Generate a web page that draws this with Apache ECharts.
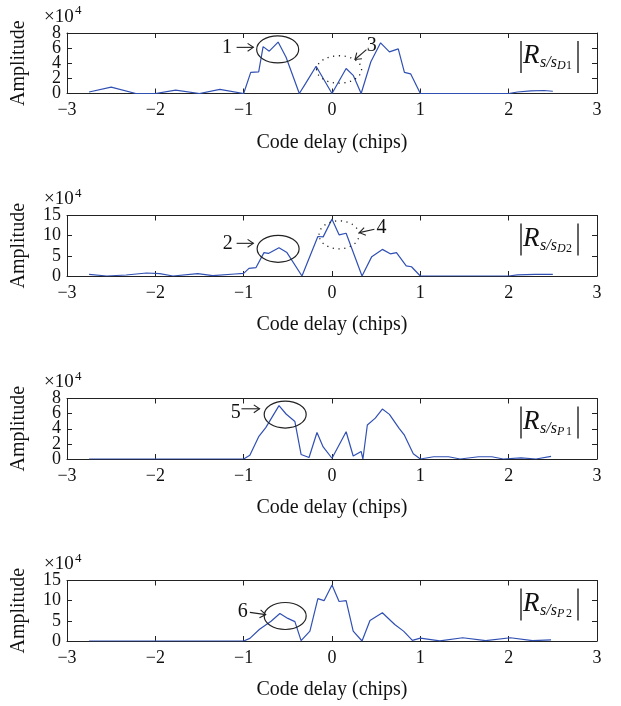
<!DOCTYPE html>
<html>
<head>
<meta charset="utf-8">
<script src="https://cdn.jsdelivr.net/npm/echarts@6/dist/echarts.min.js"></script>
<style>
  html, body { margin: 0; padding: 0; background: #fff; }
  #chart { width: 621px; height: 706px; }
</style>
</head>
<body>
<div id="chart"></div>
<script>
// code delay (chips) and amplitude (x1e4)
const xD1 = [-2.75, -2.5, -2.22, -2.0, -1.77, -1.5, -1.27, -1.0, -0.92, -0.83, -0.78, -0.71, -0.61, -0.52, -0.37, -0.30, -0.18, 0.0, 0.16, 0.24, 0.33, 0.44, 0.55, 0.65, 0.75, 0.82, 0.89, 1.0, 2.0, 2.1, 2.25, 2.4, 2.5];
const yD1 = [0.2, 0.85, 0.0, 0.0, 0.45, 0.0, 0.55, 0.0, 2.8, 2.85, 6.2, 5.6, 6.8, 4.8, 0.0, 1.3, 3.6, 0.0, 3.3, 2.4, 0.0, 4.2, 6.7, 5.5, 5.9, 2.8, 2.6, 0.0, 0.0, 0.2, 0.35, 0.4, 0.3];

const xD2 = [-2.75, -2.55, -2.33, -2.1, -1.95, -1.8, -1.52, -1.35, -1.1, -1.0, -0.94, -0.86, -0.77, -0.72, -0.60, -0.51, -0.34, -0.16, -0.10, 0.0, 0.08, 0.16, 0.34, 0.45, 0.57, 0.66, 0.73, 0.84, 0.90, 1.0, 2.0, 2.1, 2.3, 2.5];
const yD2 = [0.4, 0.0, 0.25, 0.75, 0.6, 0.0, 0.6, 0.1, 0.5, 0.65, 1.9, 2.1, 5.8, 5.6, 7.0, 5.8, 0.0, 9.8, 9.7, 14.1, 10.2, 10.6, 0.0, 4.8, 6.6, 5.5, 5.8, 2.5, 2.3, 0.0, 0.0, 0.3, 0.4, 0.4];

const xP1 = [-2.75, -1.0, -0.93, -0.83, -0.75, -0.60, -0.52, -0.42, -0.35, -0.26, -0.17, -0.10, 0.0, 0.16, 0.24, 0.33, 0.35, 0.40, 0.49, 0.57, 0.65, 0.76, 0.82, 0.92, 1.0, 1.15, 1.32, 1.45, 1.66, 1.81, 1.94, 2.14, 2.31, 2.48];
const yP1 = [0.0, 0.0, 0.5, 2.95, 4.15, 7.05, 5.95, 4.95, 0.6, 0.2, 3.5, 1.6, 0.1, 3.6, 0.4, 1.0, 0.0, 4.5, 5.4, 6.6, 5.9, 4.05, 3.15, 0.7, 0.0, 0.3, 0.3, 0.0, 0.3, 0.3, 0.0, 0.15, 0.0, 0.35];

const xP2 = [-2.75, -1.0, -0.93, -0.82, -0.69, -0.59, -0.50, -0.42, -0.35, -0.25, -0.16, -0.09, 0.0, 0.08, 0.16, 0.24, 0.34, 0.43, 0.57, 0.71, 0.81, 0.91, 1.0, 1.22, 1.48, 1.74, 2.02, 2.27, 2.48];
const yP2 = [0.0, 0.0, 0.65, 2.9, 4.9, 6.8, 5.6, 4.8, 0.1, 2.45, 10.5, 10.0, 13.9, 9.8, 10.0, 2.45, 0.0, 5.1, 7.0, 4.1, 2.45, 0.15, 0.7, 0.05, 0.8, 0.1, 0.8, 0.1, 0.3];

const xTicks = [-3, -2, -1, 0, 1, 2, 3];
const yTicksA = [0, 2, 4, 6, 8];
const yTicksB = [0, 5, 10, 15];
const yTicks = [yTicksA, yTicksB, yTicksA, yTicksB];
const subLabels = ['D1', 'D2', 'P1', 'P2'];

const FONT = '"Liberation Serif", "DejaVu Serif", serif';
const INK = '#222';
const BLUE = '#3050b4';
const tops = [33, 215.5, 398.5, 580.5];
const H = 60.5;
const LEFT = 67, RIGHT = 24;

const series_xy = [[xD1, yD1], [xD2, yD2], [xP1, yP1], [xP2, yP2]];

function fmt(v) { return v < 0 ? '\u2212' + (-v) : String(v); }

let grids = [], xAxes = [], yAxes = [], series = [];
for (let i = 0; i < 4; i++) {
  const yt = yTicks[i];
  grids.push({ left: LEFT, right: RIGHT, top: tops[i], height: H });
  const line = { onZero: false, lineStyle: { color: INK, width: 1 } };
  const tick = { inside: true, length: 5, lineStyle: { color: INK } };
  xAxes.push({
    gridIndex: i, type: 'value', position: 'bottom', min: xTicks[0], max: xTicks[xTicks.length - 1], interval: 1,
    axisLine: line, axisTick: tick, splitLine: { show: false },
    axisLabel: { margin: 8, fontFamily: FONT, fontSize: 18, color: '#111', formatter: fmt,
      showMinLabel: true, showMaxLabel: true },
    name: 'Code delay (chips)', nameLocation: 'middle', nameGap: 39,
    nameTextStyle: { fontFamily: FONT, fontSize: 20, color: '#111' }
  });
  xAxes.push({
    gridIndex: i, type: 'value', position: 'top', min: xTicks[0], max: xTicks[xTicks.length - 1], interval: 1,
    axisLine: line, axisTick: tick, axisLabel: { show: false }, splitLine: { show: false }
  });
  // left axis labels are drawn below as graphic text: ECharts thins them out at this font size
  yAxes.push({
    gridIndex: i, type: 'value', position: 'left', min: yt[0], max: yt[yt.length - 1], interval: yt[1] - yt[0],
    axisLine: line, axisTick: tick, splitLine: { show: false }, axisLabel: { show: false },
    name: 'Amplitude', nameLocation: 'middle', nameGap: 38,
    nameTextStyle: { fontFamily: FONT, fontSize: 20, color: '#111' }
  });
  yAxes.push({
    gridIndex: i, type: 'value', position: 'right', min: yt[0], max: yt[yt.length - 1], interval: yt[1] - yt[0],
    axisLine: line, axisTick: tick, axisLabel: { show: false }, splitLine: { show: false }
  });
  const xs = series_xy[i][0], ys = series_xy[i][1];
  series.push({
    type: 'line', xAxisIndex: 2 * i, yAxisIndex: 2 * i,
    data: xs.map((x, k) => [x, ys[k]]),
    showSymbol: false, lineStyle: { color: BLUE, width: 1.2 }, itemStyle: { color: BLUE }
  });
}

const chart = echarts.init(document.getElementById('chart'));
chart.setOption({
  animation: false,
  backgroundColor: '#fff',
  grid: grids, xAxis: xAxes, yAxis: yAxes, series: series
});

// annotations: ellipses, arrows and numbers, anchored in data coordinates
const solidRings = [[0, -0.615, 5.83], [1, -0.61, 6.75], [2, -0.53, 5.88], [3, -0.53, 6.2]];
const dottedRings = [[0, 0.08, 3.18, 22.5, 13.7], [1, 0.08, 10.2, 20, 14]];
const numbers = [[0, '1', -1.19, 6.1], [1, '2', -1.18, 8.1], [0, '3', 0.45, 6.3], [1, '4', 0.56, 11.85], [2, '5', -1.09, 6.07], [3, '6', -1.01, 7.35]];
const arrows = [
  [0, -1.08, 6.1, -0.89, 6.1], [1, -1.08, 8.1, -0.89, 8.1],
  [0, 0.39, 5.8, 0.26, 4.5], [1, 0.48, 11.6, 0.31, 10.75],
  [2, -1.025, 6.64, -0.82, 6.64], [3, -0.93, 7.1, -0.75, 6.55]
];

function px(g, x, y) { return chart.convertToPixel({ gridIndex: g }, [x, y]); }

let gfx = [];
for (let i = 0; i < 4; i++) {
  yTicks[i].forEach(v => {
    const p = px(i, xTicks[0], v);
    gfx.push({ type: 'text', style: { text: String(v), x: p[0] - 6, y: p[1], fontFamily: FONT, fontSize: 18,
      fill: '#111', align: 'right', verticalAlign: 'middle' } });
  });
}
solidRings.forEach(r => {
  const p = px(r[0], r[1], r[2]);
  gfx.push({ type: 'ellipse', shape: { cx: p[0], cy: p[1], rx: 21, ry: 13.5 },
    style: { fill: 'none', stroke: INK, lineWidth: 1.2 }, z: 10 });
});
dottedRings.forEach(r => {
  const p = px(r[0], r[1], r[2]);
  gfx.push({ type: 'ellipse', shape: { cx: p[0], cy: p[1], rx: r[3], ry: r[4] },
    style: { fill: 'none', stroke: INK, lineWidth: 1.3, lineDash: [1.2, 4.5] }, z: 10 });
});
numbers.forEach(n => {
  const p = px(n[0], n[2], n[3]);
  gfx.push({ type: 'text', z: 10, style: { text: n[1], x: p[0], y: p[1], fontFamily: FONT, fontSize: 20,
    fill: '#111', align: 'center', verticalAlign: 'middle' } });
});
arrows.forEach(a => {
  const p1 = px(a[0], a[1], a[2]), p2 = px(a[0], a[3], a[4]);
  const ang = Math.atan2(p2[1] - p1[1], p2[0] - p1[0]);
  const L = 7, w = 0.6;
  const h1 = [p2[0] - L * Math.cos(ang - w), p2[1] - L * Math.sin(ang - w)];
  const h2 = [p2[0] - L * Math.cos(ang + w), p2[1] - L * Math.sin(ang + w)];
  gfx.push({ type: 'line', z: 10, shape: { x1: p1[0], y1: p1[1], x2: p2[0], y2: p2[1] }, style: { stroke: INK, lineWidth: 1.1 } });
  gfx.push({ type: 'polyline', z: 10, shape: { points: [h1, p2, h2] }, style: { fill: 'none', stroke: INK, lineWidth: 1.1 } });
});

// |R_{s/s_xx}| labels and x10^4 multipliers
const W = 621;
for (let i = 0; i < 4; i++) {
  const t = tops[i];
  const bx1 = W - RIGHT - 76, bx2 = W - RIGHT - 19;
  gfx.push({ type: 'line', shape: { x1: bx1, y1: t + 8, x2: bx1, y2: t + 40 }, style: { stroke: INK, lineWidth: 1.4 } });
  gfx.push({ type: 'line', shape: { x1: bx2, y1: t + 8, x2: bx2, y2: t + 40 }, style: { stroke: INK, lineWidth: 1.4 } });
  gfx.push({ type: 'text', style: { text: 'R', x: bx1 + 2, y: t + 23, fontFamily: FONT, fontStyle: 'italic', fontSize: 27,
    fill: '#111', align: 'left', verticalAlign: 'middle' } });
  gfx.push({ type: 'text', style: { text: 's/s', x: bx1 + 19, y: t + 30, fontFamily: FONT, fontStyle: 'italic', fontSize: 16,
    fill: '#111', align: 'left', verticalAlign: 'middle' } });
  gfx.push({ type: 'text', style: { text: subLabels[i][0], x: bx1 + 36, y: t + 33, fontFamily: FONT, fontStyle: 'italic', fontSize: 12,
    fill: '#111', align: 'left', verticalAlign: 'middle' } });
  gfx.push({ type: 'text', style: { text: subLabels[i][1], x: bx1 + 45, y: t + 33, fontFamily: FONT, fontSize: 12,
    fill: '#111', align: 'left', verticalAlign: 'middle' } });

  gfx.push({ type: 'text', style: { text: '\u00d710', x: 44, y: t - 16, fontFamily: FONT, fontSize: 19,
    fill: '#111', align: 'left', verticalAlign: 'middle' } });
  gfx.push({ type: 'text', style: { text: '4', x: 75, y: t - 22, fontFamily: FONT, fontSize: 13,
    fill: '#111', align: 'left', verticalAlign: 'middle' } });
}

chart.setOption({ graphic: gfx });
</script>
</body>
</html>
